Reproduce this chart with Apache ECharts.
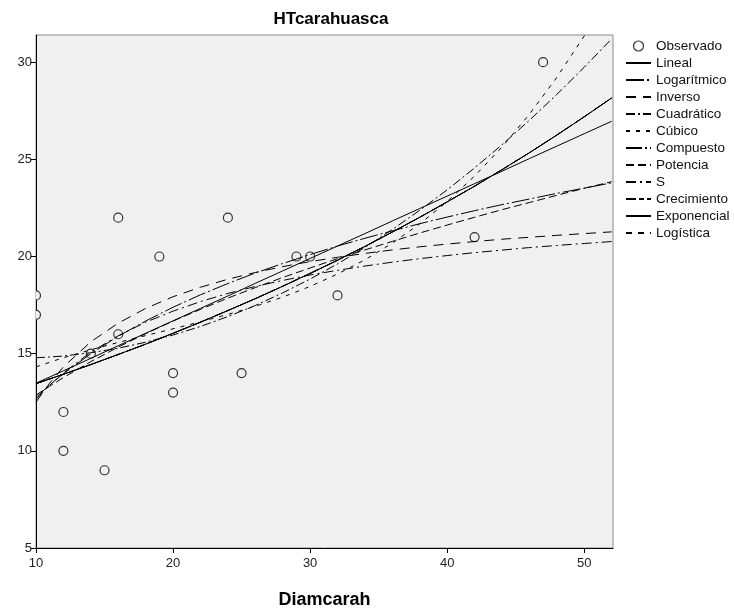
<!DOCTYPE html>
<html>
<head>
<meta charset="utf-8">
<script src="https://cdn.jsdelivr.net/npm/echarts@6/dist/echarts.min.js"></script>
<style>
  html, body { margin: 0; padding: 0; background: #fff; }
  #chart { width: 734px; height: 614px; }
</style>
</head>
<body>
<div id="chart"></div>
<script>
// Observed points
const obsX = [10, 10, 12, 12, 14, 15, 16, 16, 19, 20, 20, 24, 25, 29, 30, 32, 42, 47]
const obsY = [18, 17, 12, 10, 15, 9, 22, 16, 20, 14, 13, 22, 14, 20, 20, 18, 21, 30]

// x positions where the fitted curves are read
const fitX = [10, 11, 12, 14, 16, 18, 20, 22, 24, 26, 28, 30, 32, 34, 36, 38, 40, 42, 44, 46, 48, 50, 52]

// fitted curves
const linealY = [13.48, 13.80, 14.12, 14.76, 15.41, 16.05, 16.69, 17.33, 17.97, 18.62, 19.26, 19.90, 20.54, 21.18, 21.83, 22.47, 23.11, 23.75, 24.39, 25.04, 25.68, 26.32, 26.96]
const logY = [12.75, 13.39, 13.97, 15.00, 15.90, 16.68, 17.39, 18.03, 18.61, 19.15, 19.64, 20.10, 20.54, 20.94, 21.32, 21.69, 22.03, 22.36, 22.67, 22.96, 23.25, 23.52, 23.79]
const inversoY = [12.51, 13.49, 14.32, 15.61, 16.57, 17.33, 17.93, 18.42, 18.83, 19.18, 19.48, 19.74, 19.96, 20.16, 20.34, 20.50, 20.64, 20.77, 20.89, 20.99, 21.09, 21.18, 21.27]
const cuadY = [14.79, 14.83, 14.88, 15.05, 15.28, 15.59, 15.96, 16.40, 16.91, 17.48, 18.13, 18.84, 19.62, 20.47, 21.39, 22.38, 23.43, 24.56, 25.75, 27.01, 28.34, 29.74, 31.20]
const cubicoY = [14.32, 14.56, 14.79, 15.20, 15.58, 15.93, 16.28, 16.64, 17.02, 17.44, 17.91, 18.46, 19.10, 19.83, 20.69, 21.68, 22.83, 24.14, 25.63, 27.32, 29.22, 31.35, 33.73]
const expY = [13.46, 13.70, 13.94, 14.44, 14.96, 15.49, 16.05, 16.62, 17.22, 17.83, 18.47, 19.13, 19.81, 20.52, 21.26, 22.02, 22.81, 23.62, 24.47, 25.34, 26.25, 27.19, 28.16]
const potenciaY = [12.87, 13.33, 13.77, 14.59, 15.34, 16.03, 16.68, 17.28, 17.86, 18.40, 18.92, 19.41, 19.89, 20.34, 20.78, 21.21, 21.62, 22.02, 22.41, 22.78, 23.15, 23.51, 23.85]
const sY = [12.65, 13.38, 14.01, 15.08, 15.92, 16.62, 17.19, 17.68, 18.10, 18.46, 18.77, 19.05, 19.29, 19.51, 19.71, 19.89, 20.05, 20.20, 20.33, 20.46, 20.57, 20.67, 20.77]

const xTicks = [10, 20, 30, 40, 50]
const yTicks = [5, 10, 15, 20, 25, 30]

const fitNames = ['Lineal', 'Logarítmico', 'Inverso', 'Cuadrático', 'Cúbico',
  'Compuesto', 'Potencia', 'S', 'Crecimiento', 'Exponencial', 'Logística']

const pair = (ys) => fitX.map((x, i) => [x, ys[i]])

const fitLine = (name, ys, dash) => ({
  name: name,
  type: 'line',
  data: pair(ys),
  showSymbol: false,
  symbol: 'none',
  clip: true,
  silent: true,
  itemStyle: { color: '#000' },
  lineStyle: { color: '#000', width: 1, type: dash }
})

const chart = echarts.init(document.getElementById('chart'))

chart.setOption({
  animation: false,
  backgroundColor: '#fff',
  textStyle: { fontFamily: 'Liberation Sans, Arial, sans-serif' },
  title: {
    text: 'HTcarahuasca',
    left: 326,
    textAlign: 'center',
    top: 6,
    textStyle: { fontSize: 17, fontWeight: 'bold', color: '#000' }
  },
  grid: {
    left: 36,
    right: 121,
    top: 35,
    bottom: 65,
    show: true,
    backgroundColor: '#f0f0f0',
    borderColor: '#8a8a8a',
    borderWidth: 1
  },
  legend: {
    orient: 'vertical',
    left: 620,
    top: 34,
    itemWidth: 25,
    itemHeight: 10,
    itemGap: 3,
    textStyle: { fontSize: 13.5, color: '#111' },
    itemStyle: { color: 'rgba(0,0,0,0)', borderWidth: 0 },
    data: [
      {
        name: 'Observado',
        icon: 'circle',
        itemStyle: { color: '#fff', borderColor: '#333', borderWidth: 1.2 }
      }
    ].concat(fitNames.map((n) => ({ name: n })))
  },
  xAxis: {
    type: 'value',
    min: 10,
    max: 52.1,
    name: 'Diamcarah',
    nameLocation: 'middle',
    nameGap: 43,
    nameTextStyle: { fontSize: 18, fontWeight: 'bold', color: '#000' },
    splitLine: { show: false },
    axisLine: { onZero: false, lineStyle: { color: '#000', width: 1 } },
    axisTick: { customValues: xTicks, length: 5, lineStyle: { color: '#000' } },
    axisLabel: { customValues: xTicks, color: '#222', fontSize: 13, margin: 9 }
  },
  yAxis: {
    type: 'value',
    min: 5,
    max: 31.4,
    splitLine: { show: false },
    axisLine: { show: true, onZero: false, lineStyle: { color: '#000', width: 1 } },
    axisTick: { show: true, customValues: yTicks, length: 5, lineStyle: { color: '#000' } },
    axisLabel: { customValues: yTicks, color: '#222', fontSize: 13, margin: 4 }
  },
  series: [
    {
      name: 'Observado',
      type: 'custom',
      data: obsX.map((x, i) => [x, obsY[i]]),
      encode: { x: 0, y: 1 },
      clip: true,
      silent: true,
      itemStyle: { color: '#fff', borderColor: '#333', borderWidth: 1.2 },
      renderItem: (params, api) => {
        const p = api.coord([api.value(0), api.value(1)])
        return {
          type: 'circle',
          shape: { cx: p[0], cy: p[1], r: 4.5 },
          style: { fill: '#f0f0f0', stroke: '#333', lineWidth: 1.2 }
        }
      }
    },
    fitLine('Lineal', linealY, 'solid'),
    fitLine('Logarítmico', logY, [18, 3, 2, 3]),
    fitLine('Inverso', inversoY, [10, 7]),
    fitLine('Cuadrático', cuadY, [9, 3, 2, 3]),
    fitLine('Cúbico', cubicoY, [4, 6]),
    fitLine('Compuesto', expY, [16, 3, 2, 3]),
    fitLine('Potencia', potenciaY, [8, 4]),
    fitLine('S', sY, [10, 4, 2, 4]),
    fitLine('Crecimiento', expY, [10, 3, 5, 3]),
    fitLine('Exponencial', expY, 'solid'),
    fitLine('Logística', expY, [6, 6])
  ]
})
</script>
</body>
</html>
